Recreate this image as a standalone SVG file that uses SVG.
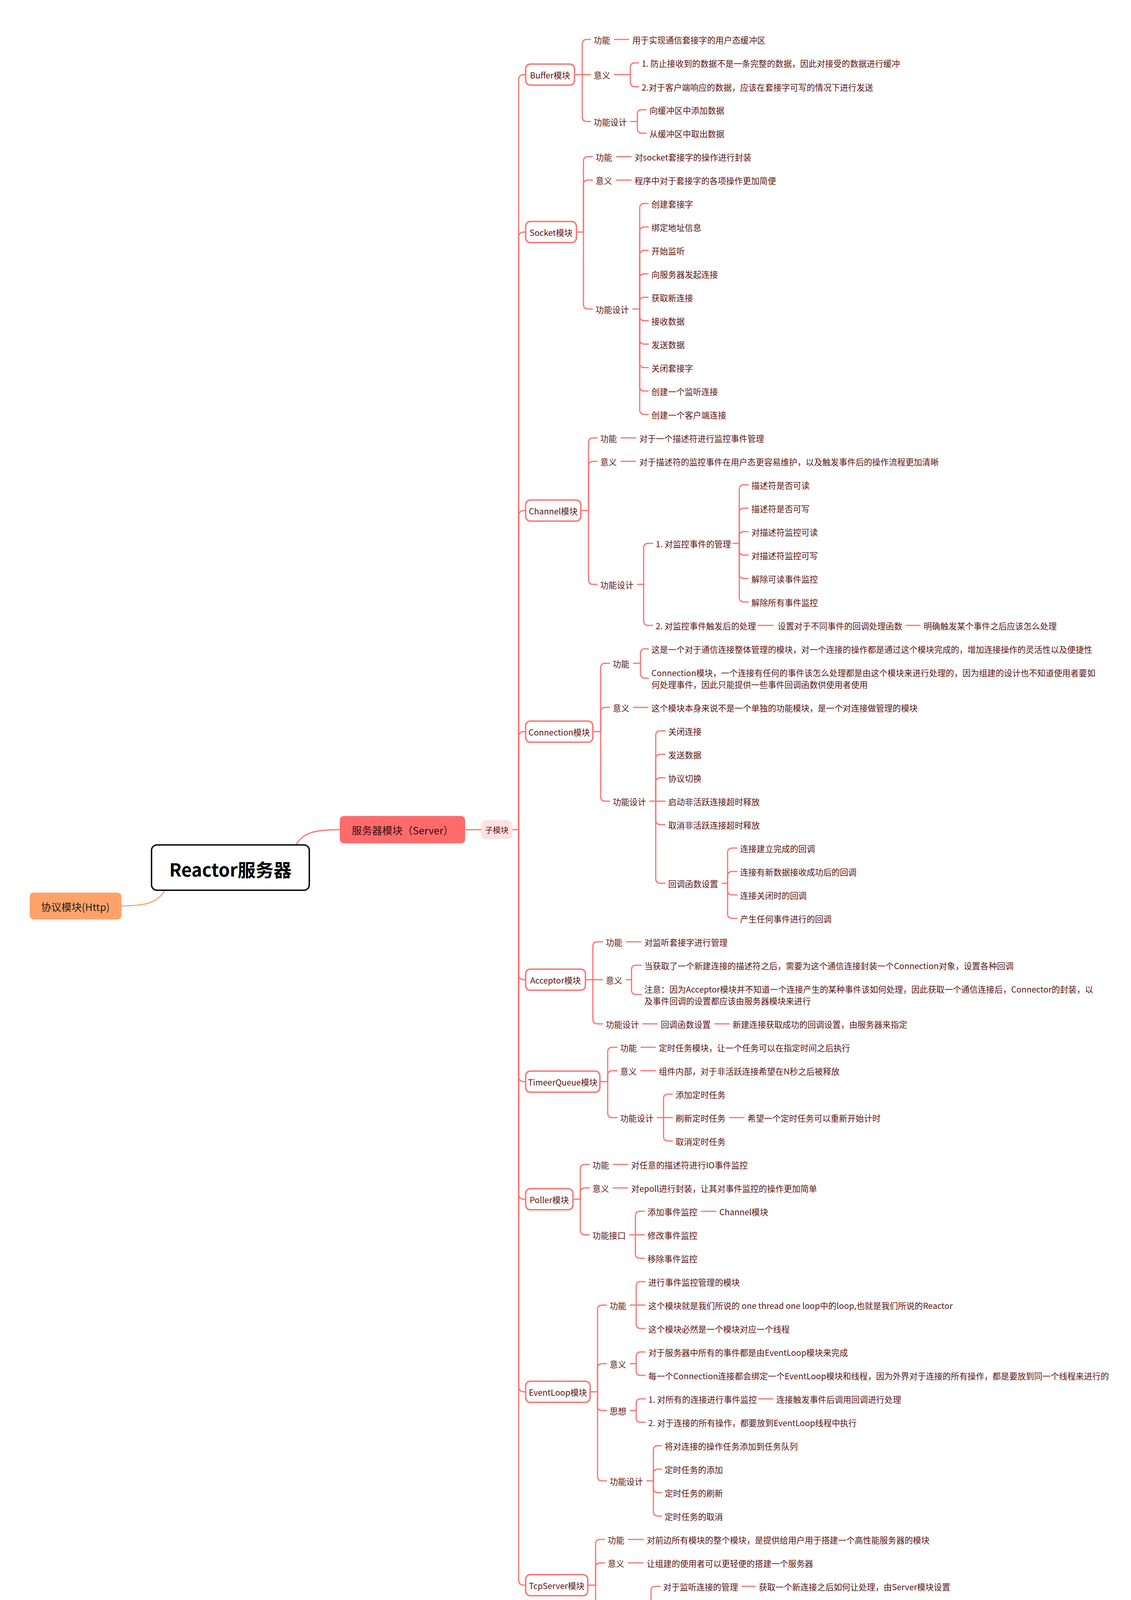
<svg xmlns="http://www.w3.org/2000/svg" width="2896" height="4428" viewBox="0 0 2896 4428">
<style>
text{font-family:"Noto Sans CJK SC","Noto Sans",sans-serif;dominant-baseline:central}
.t{font-size:21.3px;fill:#5C1212}
.mt{font-size:21.3px;fill:#5C1212;text-anchor:middle}
.c{fill:none;stroke:#FF6F6F;stroke-width:3;stroke-linecap:round;stroke-linejoin:round}
.mb{fill:#FFFFFF;stroke:#FF6F6F;stroke-width:3.5}
</style>
<rect width="2896" height="4428" fill="#FFFFFF"/>
<g id="connectors" class="c">
<path d="M758 2163 C775 2132 805 2124 870 2124"/>
<path d="M422 2279 C405 2310 375 2319 311 2319" stroke="#FFA26A"/>
<path d="M1191 2124 H1232"/>
<path d="M1312 2124 H1328"/>
<path d="M1328 2124 V205 Q1328 191 1342 191 H1346"/>
<path d="M1328 2124 V608 Q1328 594 1342 594 H1346"/>
<path d="M1328 2124 V1321 Q1328 1307 1342 1307 H1346"/>
<path d="M1328 2124 V1887 Q1328 1873 1342 1873 H1346"/>
<path d="M1328 2124 V2494 Q1328 2508 1342 2508 H1346"/>
<path d="M1328 2124 V2755 Q1328 2769 1342 2769 H1346"/>
<path d="M1328 2124 V3056 Q1328 3070 1342 3070 H1346"/>
<path d="M1328 2124 V3549 Q1328 3563 1342 3563 H1346"/>
<path d="M1328 2124 V4044 Q1328 4058 1342 4058 H1346"/>
<!-- Buffer -->
<path d="M1471 191 H1491"/>
<path d="M1491 191 V113 Q1491 101 1503 101 H1512"/>
<path d="M1491 191 H1512"/>
<path d="M1491 191 V299 Q1491 311 1503 311 H1512"/>
<path d="M1573 101 H1610"/>
<path d="M1573 191 H1614"/>
<path d="M1614 191 V173 Q1614 161 1626 161 H1635"/>
<path d="M1614 191 V210 Q1614 222 1626 222 H1635"/>
<path d="M1615 311 H1632"/>
<path d="M1632 311 V293 Q1632 281 1644 281 H1655"/>
<path d="M1632 311 V329 Q1632 341 1644 341 H1655"/>
<!-- Socket -->
<path d="M1476 594 H1494"/>
<path d="M1494 594 V413 Q1494 401 1506 401 H1517"/>
<path d="M1494 594 V473 Q1494 461 1506 461 H1517"/>
<path d="M1494 594 V779 Q1494 791 1506 791 H1517"/>
<path d="M1578 401 H1616"/>
<path d="M1578 461 H1616"/>
<path d="M1620 791 H1638"/>
<path d="M1638 791 V533 Q1638 521 1650 521 H1660"/>
<path d="M1638 791 V593 Q1638 581 1650 581 H1660"/>
<path d="M1638 791 V653 Q1638 641 1650 641 H1660"/>
<path d="M1638 791 V713 Q1638 701 1650 701 H1660"/>
<path d="M1638 791 V773 Q1638 761 1650 761 H1660"/>
<path d="M1638 791 V809 Q1638 821 1650 821 H1660"/>
<path d="M1638 791 V869 Q1638 881 1650 881 H1660"/>
<path d="M1638 791 V929 Q1638 941 1650 941 H1660"/>
<path d="M1638 791 V989 Q1638 1001 1650 1001 H1660"/>
<path d="M1638 791 V1049 Q1638 1061 1650 1061 H1660"/>
<!-- Channel -->
<path d="M1487 1307 H1507"/>
<path d="M1507 1307 V1133 Q1507 1121 1519 1121 H1529"/>
<path d="M1507 1307 V1193 Q1507 1181 1519 1181 H1529"/>
<path d="M1507 1307 V1484 Q1507 1496 1519 1496 H1529"/>
<path d="M1590 1121 H1628"/>
<path d="M1590 1181 H1628"/>
<path d="M1632 1496 H1648"/>
<path d="M1648 1496 V1403 Q1648 1391 1660 1391 H1671"/>
<path d="M1648 1496 V1589 Q1648 1601 1660 1601 H1671"/>
<path d="M1877 1391 H1893"/>
<path d="M1893 1391 V1253 Q1893 1241 1905 1241 H1916"/>
<path d="M1893 1391 V1313 Q1893 1301 1905 1301 H1916"/>
<path d="M1893 1391 V1373 Q1893 1361 1905 1361 H1916"/>
<path d="M1893 1391 V1409 Q1893 1421 1905 1421 H1916"/>
<path d="M1893 1391 V1469 Q1893 1481 1905 1481 H1916"/>
<path d="M1893 1391 V1529 Q1893 1541 1905 1541 H1916"/>
<path d="M1941 1601 H1980"/>
<path d="M2320 1601 H2356"/>
<!-- Connection -->
<path d="M1518 1873 H1538"/>
<path d="M1538 1873 V1710 Q1538 1698 1550 1698 H1561"/>
<path d="M1538 1873 V1823 Q1538 1811 1550 1811 H1561"/>
<path d="M1538 1873 V2039 Q1538 2051 1550 2051 H1561"/>
<path d="M1622 1698 H1640"/>
<path d="M1640 1698 V1673 Q1640 1661 1652 1661 H1660"/>
<path d="M1640 1698 V1724 Q1640 1736 1652 1736 H1660"/>
<path d="M1622 1811 H1659"/>
<path d="M1664 2051 H1679"/>
<path d="M1679 2051 V1883 Q1679 1871 1691 1871 H1703"/>
<path d="M1679 2051 V1943 Q1679 1931 1691 1931 H1703"/>
<path d="M1679 2051 V2003 Q1679 1991 1691 1991 H1703"/>
<path d="M1679 2051 H1703"/>
<path d="M1679 2051 V2099 Q1679 2111 1691 2111 H1703"/>
<path d="M1679 2051 V2249 Q1679 2261 1691 2261 H1703"/>
<path d="M1849 2261 H1863"/>
<path d="M1863 2261 V2183 Q1863 2171 1875 2171 H1887"/>
<path d="M1863 2261 V2243 Q1863 2231 1875 2231 H1887"/>
<path d="M1863 2261 V2279 Q1863 2291 1875 2291 H1887"/>
<path d="M1863 2261 V2339 Q1863 2351 1875 2351 H1887"/>
<!-- Acceptor -->
<path d="M1499 2508 H1518"/>
<path d="M1518 2508 V2423 Q1518 2411 1530 2411 H1543"/>
<path d="M1518 2508 H1543"/>
<path d="M1518 2508 V2609 Q1518 2621 1530 2621 H1543"/>
<path d="M1604 2411 H1641"/>
<path d="M1604 2508 H1617"/>
<path d="M1617 2508 V2483 Q1617 2471 1629 2471 H1642"/>
<path d="M1617 2508 V2534 Q1617 2546 1629 2546 H1642"/>
<path d="M1646 2621 H1683"/>
<path d="M1830 2621 H1867"/>
<!-- TimeerQueue -->
<path d="M1536 2769 H1556"/>
<path d="M1556 2769 V2693 Q1556 2681 1568 2681 H1580"/>
<path d="M1556 2769 V2753 Q1556 2741 1568 2741 H1580"/>
<path d="M1556 2769 V2849 Q1556 2861 1568 2861 H1580"/>
<path d="M1641 2681 H1678"/>
<path d="M1641 2741 H1678"/>
<path d="M1683 2861 H1699"/>
<path d="M1699 2861 V2813 Q1699 2801 1711 2801 H1722"/>
<path d="M1699 2861 H1722"/>
<path d="M1699 2861 V2909 Q1699 2921 1711 2921 H1722"/>
<path d="M1868 2861 H1905"/>
<!-- Poller -->
<path d="M1467 3070 H1486"/>
<path d="M1486 3070 V2993 Q1486 2981 1498 2981 H1509"/>
<path d="M1486 3070 V3053 Q1486 3041 1498 3041 H1509"/>
<path d="M1486 3070 V3149 Q1486 3161 1498 3161 H1509"/>
<path d="M1570 2981 H1607"/>
<path d="M1570 3041 H1607"/>
<path d="M1612 3161 H1627"/>
<path d="M1627 3161 V3113 Q1627 3101 1639 3101 H1650"/>
<path d="M1627 3161 H1650"/>
<path d="M1627 3161 V3209 Q1627 3221 1639 3221 H1650"/>
<path d="M1796 3101 H1833"/>
<!-- EventLoop -->
<path d="M1511 3563 H1530"/>
<path d="M1530 3563 V3353 Q1530 3341 1542 3341 H1553"/>
<path d="M1530 3563 V3503 Q1530 3491 1542 3491 H1553"/>
<path d="M1530 3563 V3599 Q1530 3611 1542 3611 H1553"/>
<path d="M1530 3563 V3779 Q1530 3791 1542 3791 H1553"/>
<path d="M1614 3341 H1629"/>
<path d="M1629 3341 V3293 Q1629 3281 1641 3281 H1652"/>
<path d="M1629 3341 H1652"/>
<path d="M1629 3341 V3389 Q1629 3401 1641 3401 H1652"/>
<path d="M1614 3491 H1629"/>
<path d="M1629 3491 V3473 Q1629 3461 1641 3461 H1652"/>
<path d="M1629 3491 V3509 Q1629 3521 1641 3521 H1652"/>
<path d="M1614 3611 H1629"/>
<path d="M1629 3611 V3593 Q1629 3581 1641 3581 H1652"/>
<path d="M1629 3611 V3629 Q1629 3641 1641 3641 H1652"/>
<path d="M1943 3581 H1979"/>
<path d="M1656 3791 H1673"/>
<path d="M1673 3791 V3713 Q1673 3701 1685 3701 H1694"/>
<path d="M1673 3791 V3773 Q1673 3761 1685 3761 H1694"/>
<path d="M1673 3791 V3809 Q1673 3821 1685 3821 H1694"/>
<path d="M1673 3791 V3869 Q1673 3881 1685 3881 H1694"/>
<!-- TcpServer -->
<path d="M1505 4058 H1525"/>
<path d="M1525 4058 V3953 Q1525 3941 1537 3941 H1548"/>
<path d="M1525 4058 V4013 Q1525 4001 1537 4001 H1548"/>
<path d="M1525 4058 V4169 Q1525 4181 1537 4181 H1548"/>
<path d="M1609 3941 H1647"/>
<path d="M1609 4001 H1647"/>
<path d="M1651 4181 H1667"/>
<path d="M1667 4181 V4073 Q1667 4061 1679 4061 H1690"/>
<path d="M1667 4181 V4133 Q1667 4121 1679 4121 H1690"/>
<path d="M1667 4181 H1690"/>
<path d="M1667 4181 V4229 Q1667 4241 1679 4241 H1690"/>
<path d="M1667 4181 V4304 Q1667 4316 1679 4316 H1690"/>
<path d="M1900 4061 H1934"/>
<path d="M1900 4121 H1934"/>
<path d="M1900 4181 H1934"/>
<path d="M1900 4241 H1934"/>
<path d="M1900 4316 H1934"/>
</g>

<g id="n-root"><rect x="388" y="2163" width="404" height="116" rx="14" fill="#FFFFFF" stroke="#000000" stroke-width="3.5"/><text x="590" y="2224" font-size="46" font-weight="700" fill="#000000" text-anchor="middle">Reactor服务器</text></g>
<g id="n-http"><rect x="76" y="2285" width="235" height="69" rx="10" fill="#FFA26A"/><text x="193" y="2320" font-size="26" fill="#1F1F1F" text-anchor="middle">协议模块(Http)</text></g>
<g id="n-server"><rect x="870" y="2089" width="321" height="70" rx="10" fill="#FF6B6B"/><text x="1031" y="2124" font-size="26" fill="#3A0D0D" text-anchor="middle">服务器模块（Server）</text></g>
<g id="n-sub"><rect x="1232" y="2100" width="80" height="48" rx="12" fill="#FFE1E1"/><text x="1272" y="2124" font-size="20" fill="#5C1212" text-anchor="middle">子模块</text></g>

<g id="n-buffer"><rect class="mb" x="1346" y="164" width="125" height="54" rx="12"/><text class="mt" x="1408.5" y="191">Buffer模块</text></g>
<g id="n-socket"><rect class="mb" x="1346" y="567" width="130" height="54" rx="12"/><text class="mt" x="1411" y="594">Socket模块</text></g>
<g id="n-channel"><rect class="mb" x="1346" y="1280" width="141" height="54" rx="12"/><text class="mt" x="1416.5" y="1307">Channel模块</text></g>
<g id="n-connection"><rect class="mb" x="1346" y="1846" width="172" height="54" rx="12"/><text class="mt" x="1432" y="1873">Connection模块</text></g>
<g id="n-acceptor"><rect class="mb" x="1346" y="2481" width="153" height="54" rx="12"/><text class="mt" x="1422.5" y="2508">Acceptor模块</text></g>
<g id="n-timer"><rect class="mb" x="1346" y="2742" width="190" height="54" rx="12"/><text class="mt" x="1441" y="2769">TimeerQueue模块</text></g>
<g id="n-poller"><rect class="mb" x="1346" y="3043" width="121" height="54" rx="12"/><text class="mt" x="1406.5" y="3070">Poller模块</text></g>
<g id="n-eventloop"><rect class="mb" x="1346" y="3536" width="165" height="54" rx="12"/><text class="mt" x="1428.5" y="3563">EventLoop模块</text></g>
<g id="n-tcpserver"><rect class="mb" x="1346" y="4031" width="159" height="54" rx="12"/><text class="mt" x="1425.5" y="4058">TcpServer模块</text></g>

<g class="t">
<g id="buf-f"><text class="t" x="1520" y="101">功能</text></g>
<g id="buf-f-1"><text class="t" x="1619" y="101">用于实现通信套接字的用户态缓冲区</text></g>
<g id="buf-m"><text class="t" x="1520" y="191">意义</text></g>
<g id="buf-m-1"><text class="t" x="1643" y="161">1. 防止接收到的数据不是一条完整的数据，因此对接受的数据进行缓冲</text></g>
<g id="buf-m-2"><text class="t" x="1643" y="222">2.对于客户端响应的数据，应该在套接字可写的情况下进行发送</text></g>
<g id="buf-d"><text class="t" x="1520" y="311">功能设计</text></g>
<g id="buf-d-1"><text class="t" x="1663" y="281">向缓冲区中添加数据</text></g>
<g id="buf-d-2"><text class="t" x="1663" y="341">从缓冲区中取出数据</text></g>

<g id="sock-f"><text class="t" x="1525" y="401">功能</text></g>
<g id="sock-f-1"><text class="t" x="1625" y="401">对socket套接字的操作进行封装</text></g>
<g id="sock-m"><text class="t" x="1525" y="461">意义</text></g>
<g id="sock-m-1"><text class="t" x="1625" y="461">程序中对于套接字的各项操作更加简便</text></g>
<g id="sock-d"><text class="t" x="1525" y="791">功能设计</text></g>
<g id="sock-d-1"><text class="t" x="1668" y="521">创建套接字</text></g>
<g id="sock-d-2"><text class="t" x="1668" y="581">绑定地址信息</text></g>
<g id="sock-d-3"><text class="t" x="1668" y="641">开始监听</text></g>
<g id="sock-d-4"><text class="t" x="1668" y="701">向服务器发起连接</text></g>
<g id="sock-d-5"><text class="t" x="1668" y="761">获取新连接</text></g>
<g id="sock-d-6"><text class="t" x="1668" y="821">接收数据</text></g>
<g id="sock-d-7"><text class="t" x="1668" y="881">发送数据</text></g>
<g id="sock-d-8"><text class="t" x="1668" y="941">关闭套接字</text></g>
<g id="sock-d-9"><text class="t" x="1668" y="1001">创建一个监听连接</text></g>
<g id="sock-d-10"><text class="t" x="1668" y="1061">创建一个客户端连接</text></g>

<g id="ch-f"><text class="t" x="1537" y="1121">功能</text></g>
<g id="ch-f-1"><text class="t" x="1637" y="1121">对于一个描述符进行监控事件管理</text></g>
<g id="ch-m"><text class="t" x="1537" y="1181">意义</text></g>
<g id="ch-m-1"><text class="t" x="1637" y="1181">对于描述符的监控事件在用户态更容易维护，以及触发事件后的操作流程更加清晰</text></g>
<g id="ch-d"><text class="t" x="1537" y="1496">功能设计</text></g>
<g id="ch-d-1"><text class="t" x="1679" y="1391">1. 对监控事件的管理</text></g>
<g id="ch-d-1-1"><text class="t" x="1924" y="1241">描述符是否可读</text></g>
<g id="ch-d-1-2"><text class="t" x="1924" y="1301">描述符是否可写</text></g>
<g id="ch-d-1-3"><text class="t" x="1924" y="1361">对描述符监控可读</text></g>
<g id="ch-d-1-4"><text class="t" x="1924" y="1421">对描述符监控可写</text></g>
<g id="ch-d-1-5"><text class="t" x="1924" y="1481">解除可读事件监控</text></g>
<g id="ch-d-1-6"><text class="t" x="1924" y="1541">解除所有事件监控</text></g>
<g id="ch-d-2"><text class="t" x="1679" y="1601">2. 对监控事件触发后的处理</text></g>
<g id="ch-d-2-1"><text class="t" x="1991" y="1601">设置对于不同事件的回调处理函数</text></g>
<g id="ch-d-2-1-1"><text class="t" x="2365" y="1601">明确触发某个事件之后应该怎么处理</text></g>

<g id="con-f"><text class="t" x="1569" y="1698">功能</text></g>
<g id="con-f-1"><text class="t" x="1668" y="1661">这是一个对于通信连接整体管理的模块，对一个连接的操作都是通过这个模块完成的，增加连接操作的灵活性以及便捷性</text></g>
<g id="con-f-2"><text class="t"><tspan x="1668" y="1721">Connection模块，一个连接有任何的事件该怎么处理都是由这个模块来进行处理的，因为组建的设计也不知道使用者要如</tspan><tspan x="1668" y="1751">何处理事件，因此只能提供一些事件回调函数供使用者使用</tspan></text></g>
<g id="con-m"><text class="t" x="1569" y="1811">意义</text></g>
<g id="con-m-1"><text class="t" x="1668" y="1811">这个模块本身来说不是一个单独的功能模块，是一个对连接做管理的模块</text></g>
<g id="con-d"><text class="t" x="1569" y="2051">功能设计</text></g>
<g id="con-d-1"><text class="t" x="1711" y="1871">关闭连接</text></g>
<g id="con-d-2"><text class="t" x="1711" y="1931">发送数据</text></g>
<g id="con-d-3"><text class="t" x="1711" y="1991">协议切换</text></g>
<g id="con-d-4"><text class="t" x="1711" y="2051">启动非活跃连接超时释放</text></g>
<g id="con-d-5"><text class="t" x="1711" y="2111">取消非活跃连接超时释放</text></g>
<g id="con-d-6"><text class="t" x="1711" y="2261">回调函数设置</text></g>
<g id="con-d-6-1"><text class="t" x="1895" y="2171">连接建立完成的回调</text></g>
<g id="con-d-6-2"><text class="t" x="1895" y="2231">连接有新数据接收成功后的回调</text></g>
<g id="con-d-6-3"><text class="t" x="1895" y="2291">连接关闭时的回调</text></g>
<g id="con-d-6-4"><text class="t" x="1895" y="2351">产生任何事件进行的回调</text></g>

<g id="acc-f"><text class="t" x="1551" y="2411">功能</text></g>
<g id="acc-f-1"><text class="t" x="1650" y="2411">对监听套接字进行管理</text></g>
<g id="acc-m"><text class="t" x="1551" y="2508">意义</text></g>
<g id="acc-m-1"><text class="t" x="1650" y="2471">当获取了一个新建连接的描述符之后，需要为这个通信连接封装一个Connection对象，设置各种回调</text></g>
<g id="acc-m-2"><text class="t"><tspan x="1650" y="2531">注意：因为Acceptor模块并不知道一个连接产生的某种事件该如何处理，因此获取一个通信连接后，Connector的封装，以</tspan><tspan x="1650" y="2561">及事件回调的设置都应该由服务器模块来进行</tspan></text></g>
<g id="acc-d"><text class="t" x="1551" y="2621">功能设计</text></g>
<g id="acc-d-1"><text class="t" x="1692" y="2621">回调函数设置</text></g>
<g id="acc-d-1-1"><text class="t" x="1876" y="2621">新建连接获取成功的回调设置，由服务器来指定</text></g>

<g id="tq-f"><text class="t" x="1588" y="2681">功能</text></g>
<g id="tq-f-1"><text class="t" x="1687" y="2681">定时任务模块，让一个任务可以在指定时间之后执行</text></g>
<g id="tq-m"><text class="t" x="1588" y="2741">意义</text></g>
<g id="tq-m-1"><text class="t" x="1687" y="2741">组件内部，对于非活跃连接希望在N秒之后被释放</text></g>
<g id="tq-d"><text class="t" x="1588" y="2861">功能设计</text></g>
<g id="tq-d-1"><text class="t" x="1730" y="2801">添加定时任务</text></g>
<g id="tq-d-2"><text class="t" x="1730" y="2861">刷新定时任务</text></g>
<g id="tq-d-2-1"><text class="t" x="1914" y="2861">希望一个定时任务可以重新开始计时</text></g>
<g id="tq-d-3"><text class="t" x="1730" y="2921">取消定时任务</text></g>

<g id="po-f"><text class="t" x="1517" y="2981">功能</text></g>
<g id="po-f-1"><text class="t" x="1616" y="2981">对任意的描述符进行IO事件监控</text></g>
<g id="po-m"><text class="t" x="1517" y="3041">意义</text></g>
<g id="po-m-1"><text class="t" x="1616" y="3041">对epoll进行封装，让其对事件监控的操作更加简单</text></g>
<g id="po-i"><text class="t" x="1517" y="3161">功能接口</text></g>
<g id="po-i-1"><text class="t" x="1658" y="3101">添加事件监控</text></g>
<g id="po-i-1-1"><text class="t" x="1842" y="3101">Channel模块</text></g>
<g id="po-i-2"><text class="t" x="1658" y="3161">修改事件监控</text></g>
<g id="po-i-3"><text class="t" x="1658" y="3221">移除事件监控</text></g>

<g id="el-f"><text class="t" x="1561" y="3341">功能</text></g>
<g id="el-f-1"><text class="t" x="1660" y="3281">进行事件监控管理的模块</text></g>
<g id="el-f-2"><text class="t" x="1660" y="3341">这个模块就是我们所说的 one thread one loop中的loop,也就是我们所说的Reactor</text></g>
<g id="el-f-3"><text class="t" x="1660" y="3401">这个模块必然是一个模块对应一个线程</text></g>
<g id="el-m"><text class="t" x="1561" y="3491">意义</text></g>
<g id="el-m-1"><text class="t" x="1660" y="3461">对于服务器中所有的事件都是由EventLoop模块来完成</text></g>
<g id="el-m-2"><text class="t" x="1660" y="3521">每一个Connection连接都会绑定一个EventLoop模块和线程，因为外界对于连接的所有操作，都是要放到同一个线程来进行的</text></g>
<g id="el-s"><text class="t" x="1561" y="3611">思想</text></g>
<g id="el-s-1"><text class="t" x="1660" y="3581">1. 对所有的连接进行事件监控</text></g>
<g id="el-s-1-1"><text class="t" x="1988" y="3581">连接触发事件后调用回调进行处理</text></g>
<g id="el-s-2"><text class="t" x="1660" y="3641">2. 对于连接的所有操作，都要放到EventLoop线程中执行</text></g>
<g id="el-d"><text class="t" x="1561" y="3791">功能设计</text></g>
<g id="el-d-1"><text class="t" x="1702" y="3701">将对连接的操作任务添加到任务队列</text></g>
<g id="el-d-2"><text class="t" x="1702" y="3761">定时任务的添加</text></g>
<g id="el-d-3"><text class="t" x="1702" y="3821">定时任务的刷新</text></g>
<g id="el-d-4"><text class="t" x="1702" y="3881">定时任务的取消</text></g>

<g id="ts-f"><text class="t" x="1556" y="3941">功能</text></g>
<g id="ts-f-1"><text class="t" x="1656" y="3941">对前边所有模块的整个模块，是提供给用户用于搭建一个高性能服务器的模块</text></g>
<g id="ts-m"><text class="t" x="1556" y="4001">意义</text></g>
<g id="ts-m-1"><text class="t" x="1656" y="4001">让组建的使用者可以更轻便的搭建一个服务器</text></g>
<g id="ts-d"><text class="t" x="1556" y="4181">功能设计</text></g>
<g id="ts-d-1"><text class="t" x="1698" y="4061">对于监听连接的管理</text></g>
<g id="ts-d-1-1"><text class="t" x="1943" y="4061">获取一个新连接之后如何让处理，由Server模块设置</text></g>
<g id="ts-d-2"><text class="t" x="1698" y="4121">对于通信连接的管理</text></g>
<g id="ts-d-2-1"><text class="t" x="1943" y="4121">连接产生的某个事件如何处理，由Server模块设置</text></g>
<g id="ts-d-3"><text class="t" x="1698" y="4181">对于超时连接的管理</text></g>
<g id="ts-d-3-1"><text class="t" x="1943" y="4181">连接非活跃超时是否关闭，由Server模块设置</text></g>
<g id="ts-d-4"><text class="t" x="1698" y="4241">对于事件监控的管理</text></g>
<g id="ts-d-4-1"><text class="t" x="1943" y="4241">启动多少个线程，有多少个EventLoop,由Server模块设置</text></g>
<g id="ts-d-5"><text class="t" x="1698" y="4316">事件回调函数的设置</text></g>
<g id="ts-d-5-1"><text class="t"><tspan x="1943" y="4301">一个连接产生了一个事件，对于这个事件如何处理，只有组件使用者知道，因此一个事件的处</tspan><tspan x="1943" y="4331">理回调，一定是组件的使用者设置给TcpServer,TcpServer设置给各个Connection连接</tspan></text></g>
</g>

<g id="footer">
<text x="1278" y="4375" font-family="Liberation Sans, sans-serif" font-size="34" fill="#C4C4C4">Presented with <tspan font-weight="700" fill="#B0B0B0">xmind</tspan></text>
<text x="2489" y="4381" font-size="52" fill="#CCCCCC">CSDN @孙同学_</text>
</g>
</svg>
